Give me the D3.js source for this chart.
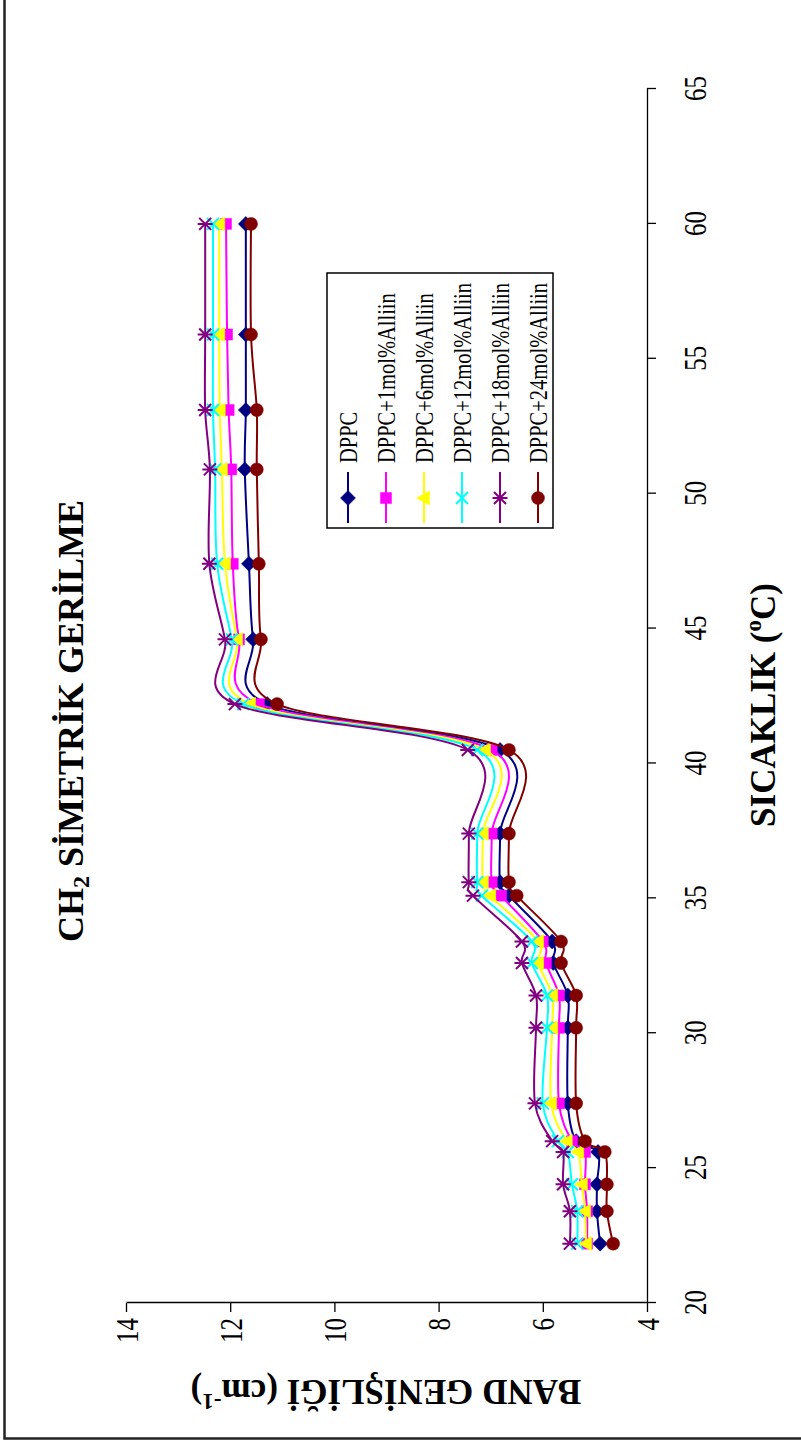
<!DOCTYPE html>
<html><head><meta charset="utf-8">
<script src="https://cdn.jsdelivr.net/npm/d3@7"></script>
<style>html,body{margin:0;padding:0;background:#fff}svg{display:block}</style>
</head><body>
<svg id="c" width="801" height="1441"></svg>
<script>
// ---- data (temperature in °C, band width in cm-1) ----
const temps = [22.2, 23.4, 24.4, 25.6, 26.0, 27.4, 30.2, 31.4, 32.6, 33.4, 35.1, 35.6, 37.4, 40.5, 42.2, 44.6, 47.4, 50.9, 53.1, 55.9, 60.0];
const seriesNames = ["DPPC", "DPPC+1mol%Alliin", "DPPC+6mol%Alliin", "DPPC+12mol%Alliin", "DPPC+18mol%Alliin", "DPPC+24mol%Alliin"];
const dppc     = [4.90, 4.96, 4.96, 4.94, 5.36, 5.52, 5.52, 5.52, 5.80, 5.82, 6.65, 6.82, 6.82, 6.82, 11.29, 11.56, 11.64, 11.72, 11.70, 11.70, 11.70];
const alliin1  = [5.15, 5.15, 5.19, 5.19, 5.44, 5.69, 5.69, 5.69, 5.94, 6.00, 6.80, 6.98, 6.98, 6.98, 11.45, 11.83, 11.95, 11.98, 12.03, 12.06, 12.08];
const alliin6  = [5.17, 5.19, 5.25, 5.32, 5.54, 5.84, 5.82, 5.82, 6.09, 6.09, 7.01, 7.15, 7.15, 7.11, 11.62, 11.87, 12.10, 12.16, 12.20, 12.21, 12.21];
const alliin12 = [5.34, 5.34, 5.44, 5.52, 5.71, 6.00, 5.92, 5.92, 6.21, 6.21, 7.17, 7.26, 7.26, 7.26, 11.75, 11.97, 12.25, 12.29, 12.33, 12.33, 12.33];
const alliin18 = [5.48, 5.48, 5.61, 5.61, 5.82, 6.15, 6.13, 6.13, 6.40, 6.40, 7.34, 7.42, 7.42, 7.44, 11.91, 12.10, 12.40, 12.39, 12.48, 12.48, 12.48];
const alliin24 = [4.65, 4.77, 4.77, 4.81, 5.19, 5.36, 5.36, 5.36, 5.65, 5.65, 6.50, 6.65, 6.65, 6.65, 11.10, 11.41, 11.45, 11.49, 11.49, 11.60, 11.60];
const xTicks = [20, 25, 30, 35, 40, 45, 50, 55, 60, 65];
const yTicks = [4, 6, 8, 10, 12, 14];
const titleMain = "CH", titleSub = "2", titleRest = " SİMETRİK GERİLME";
const xTitle = ["SICAKLIK (", "o", "C)"];
const yTitle = ["BAND GENİŞLİĞİ (cm", "-1", ")"];

// ---- styles ----
const colors = ["#000080", "#FF00FF", "#FFFF00", "#00FFFF", "#800080", "#800000"];
const markerKinds = ["diamond", "square", "triangle", "x", "star", "circle"];
const allSeries = [dppc, alliin1, alliin6, alliin12, alliin18, alliin24];
const SERIF = "'Liberation Serif','Times New Roman',serif";

const svg = d3.select("#c");
svg.append("rect").attr("x", 0).attr("y", 0).attr("width", 801).attr("height", 1441).attr("fill", "#fff");
// outer chart frame (left and bottom edges visible)
svg.append("rect").attr("x", 4.5).attr("y", -20).attr("width", 830).attr("height", 1458.5)
  .attr("fill", "none").attr("stroke", "#222").attr("stroke-width", 2.5);

// chart is drawn in landscape and rotated -90°
const g = svg.append("g").attr("transform", "translate(0,1441) rotate(-90)");

const x = d3.scaleLinear().domain([20, 65]).range([138, 1352]);
const y = d3.scaleLinear().domain([4, 14]).range([647, 126]);

// axes
const xAxis = g.append("g").attr("transform", `translate(0,${y(4)})`)
  .call(d3.axisBottom(x).tickValues(xTicks).tickSize(9).tickSizeOuter(0));
const yAxis = g.append("g").attr("transform", `translate(${x(20)},0)`)
  .call(d3.axisLeft(y).tickValues(yTicks).tickSize(9).tickSizeOuter(0));
[xAxis, yAxis].forEach(a => {
  a.attr("font-family", SERIF).attr("font-size", 25);
  a.select(".domain").attr("stroke", "#000").attr("stroke-width", 1.3);
  a.selectAll(".tick line").attr("stroke", "#000").attr("stroke-width", 1.3);
  a.selectAll(".tick text").attr("fill", "#000");
});
xAxis.selectAll(".tick text").attr("y", null).attr("dy", null)
  .attr("transform", "translate(0,59) scale(1,1.3)").attr("text-anchor", "middle");
yAxis.selectAll(".tick text").attr("x", null).attr("dy", "0.34em")
  .attr("transform", "translate(-15,0) scale(1,1.3)").attr("text-anchor", "end");

// markers
function markerPath(kind) {
  switch (kind) {
    case "diamond": return "M0,-7.5L7.5,0L0,7.5L-7.5,0Z";
    case "square": return "M-5.5,-5.5H5.5V5.5H-5.5Z";
    case "triangle": return "M0,-7.5L7,5.5L-7,5.5Z";
    case "x": return "M-6,-6L6,6M-6,6L6,-6";
    case "star": return "M-6,-6L6,6M-6,6L6,-6M0,-7.5V7.5";
    case "circle": return d3.symbol().type(d3.symbolCircle).size(Math.PI * 6.5 * 6.5)();
  }
}
function drawMarker(sel, kind, color) {
  const stroked = kind === "x" || kind === "star";
  sel.append("path").attr("d", markerPath(kind))
    .attr("fill", stroked ? "none" : color)
    .attr("stroke", color).attr("stroke-width", stroked ? 2 : 0.5);
}

const line = d3.line().x((d, i) => x(temps[i])).y(d => y(d)).curve(d3.curveCatmullRom.alpha(0));

allSeries.forEach((vals, si) => {
  const sg = g.append("g");
  sg.append("path").attr("d", line(vals)).attr("fill", "none")
    .attr("stroke", colors[si]).attr("stroke-width", 2);
  vals.forEach((v, i) => {
    const m = sg.append("g").attr("transform", `translate(${x(temps[i])},${y(v)})`);
    drawMarker(m, markerKinds[si], colors[si]);
  });
});

// legend
const lg = g.append("g");
lg.append("rect").attr("x", 913).attr("y", 327).attr("width", 255).attr("height", 226)
  .attr("fill", "#fff").attr("stroke", "#000").attr("stroke-width", 1.5);
seriesNames.forEach((name, si) => {
  const ly = 348 + si * 38;
  lg.append("line").attr("x1", 918).attr("x2", 969).attr("y1", ly).attr("y2", ly)
    .attr("stroke", colors[si]).attr("stroke-width", 2);
  const m = lg.append("g").attr("transform", `translate(943,${ly})`);
  drawMarker(m, markerKinds[si], colors[si]);
  lg.append("text").attr("transform", `translate(978,${ly}) scale(1,1.25)`)
    .attr("dy", "0.34em").attr("font-family", SERIF).attr("font-size", 20.5)
    .attr("fill", "#000").text(name);
});

// title
const t = g.append("text").attr("transform", "translate(720,83)")
  .attr("text-anchor", "middle").attr("font-family", SERIF).attr("font-weight", "bold")
  .attr("font-size", 36).attr("fill", "#000");
t.append("tspan").text(titleMain);
t.append("tspan").attr("font-size", 24).attr("dy", 6).text(titleSub);
t.append("tspan").attr("dy", -6).text(titleRest);

// x axis title
const xt = g.append("text").attr("transform", "translate(736,775)")
  .attr("text-anchor", "middle").attr("font-family", SERIF).attr("font-weight", "bold")
  .attr("font-size", 35).attr("fill", "#000");
xt.append("tspan").text(xTitle[0]);
xt.append("tspan").attr("font-size", 23).attr("dy", -14).text(xTitle[1]);
xt.append("tspan").attr("dy", 14).text(xTitle[2]);

// y axis title
const yt = g.append("text").attr("transform", "translate(61,386) rotate(-90)")
  .attr("text-anchor", "middle").attr("font-family", SERIF).attr("font-weight", "bold")
  .attr("font-size", 35).attr("fill", "#000");
yt.append("tspan").text(yTitle[0]);
yt.append("tspan").attr("font-size", 23).attr("dy", -14).text(yTitle[1]);
yt.append("tspan").attr("dy", 14).text(yTitle[2]);
</script>
</body></html>
